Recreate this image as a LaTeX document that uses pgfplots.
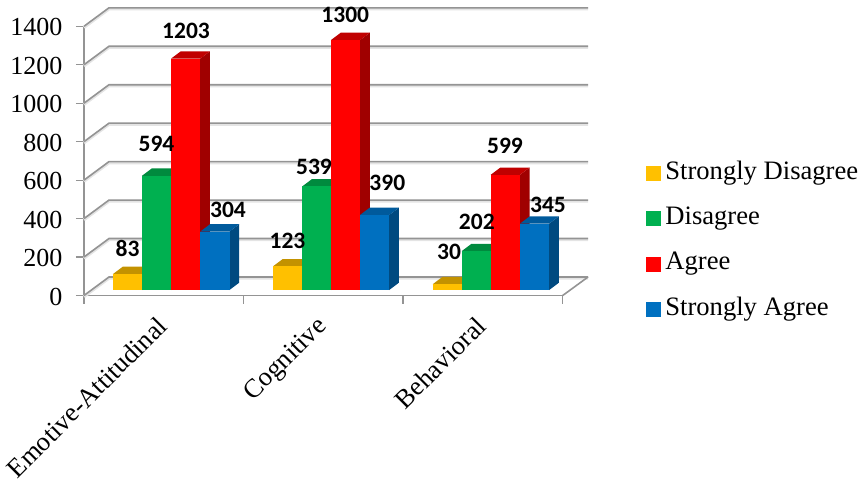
\documentclass[border=0pt]{standalone}
\usepackage{fontspec}
\setmainfont{Liberation Serif}
\newfontfamily\valuefont{Carlito}
\usepackage{pgfplots}
\pgfplotsset{compat=1.18}

\definecolor{wallgray}{HTML}{949494}
\definecolor{wallshade}{HTML}{E4E4E4}
\definecolor{sdF}{HTML}{FFC000}\definecolor{sdT}{HTML}{C39200}\definecolor{sdS}{HTML}{A67C00}
\definecolor{dF}{HTML}{00B050}\definecolor{dT}{HTML}{008A3E}\definecolor{dS}{HTML}{006C30}
\definecolor{aF}{HTML}{FF0000}\definecolor{aT}{HTML}{C00000}\definecolor{aS}{HTML}{A00000}
\definecolor{saF}{HTML}{0070C0}\definecolor{saT}{HTML}{005A9C}\definecolor{saS}{HTML}{004A80}

% value units per pixel-sized lift of the bar floor and of the bar depth
\def\floorlift{28.6}
\def\barw{29.2}
\def\depthx{9.7}
\def\depthy{38}

% one 3-D bar: left edge, value, colour prefix
\newcommand{\barthree}[3]{%
  \pgfmathsetmacro\xa{#1}%
  \pgfmathsetmacro\xb{#1+\barw}%
  \pgfmathsetmacro\xc{#1+\depthx}%
  \pgfmathsetmacro\xd{#1+\barw+\depthx}%
  \pgfmathsetmacro\ya{\floorlift}%
  \pgfmathsetmacro\yb{\floorlift+#2}%
  \pgfmathsetmacro\yc{\floorlift+\depthy}%
  \pgfmathsetmacro\yd{\floorlift+#2+\depthy}%
  \addplot[forget plot,draw=none,fill=#3S] coordinates {(\xb,\ya) (\xd,\yc) (\xd,\yd) (\xb,\yb)} --cycle;
  \addplot[forget plot,draw=none,fill=#3T] coordinates {(\xa,\yb) (\xc,\yd) (\xd,\yd) (\xb,\yb)} --cycle;
  \addplot[forget plot,draw=none,fill=#3F] coordinates {(\xa,\ya) (\xa,\yb) (\xb,\yb) (\xb,\ya)} --cycle;
}

% one grid level: rises along the side wall, runs across the back wall
\newcommand{\gridlevel}[1]{%
  \pgfmathsetmacro\yb{#1+96.2}%
  \addplot[forget plot,draw=wallshade,line width=3pt] coordinates {(84,#1-6) (109,\yb-6) (588,\yb-6)};
  \addplot[forget plot,draw=wallgray,line width=1.6pt] coordinates {(84,#1) (109,\yb) (588,\yb)};
}

% value label centred on an x position and a height in value units
\newcommand{\vallabel}[3]{%
  \node[font=\valuefont\bfseries\fontsize{23.5}{26}\selectfont,inner sep=0pt] at (axis cs:#1,#2) {#3};
}

\begin{document}
\begin{tikzpicture}
\path[use as bounding box] (0,0) rectangle (863pt,483pt);
\begin{axis}[
  at={(84pt,187.5pt)}, anchor=south west,
  width=478.7pt, height=269.2pt, scale only axis,
  xmin=84, xmax=562.7, ymin=0, ymax=1400,
  clip=false,
  axis x line*=bottom, axis y line*=left,
  axis line style={draw=wallgray,line width=1.6pt,-},
  tick align=outside, major tick length=8pt,
  tick style={draw=wallgray,line width=1.2pt},
  xtick={84,243.5,403,562.7}, xticklabels={},
  ytick={0,200,...,1400},
  scaled y ticks=false,
  /pgf/number format/assume math mode=true,
  /pgf/number format/1000 sep={},
  yticklabel style={xshift=-10pt,yshift=-1pt,font=\fontsize{26}{30}\selectfont},
  extra x ticks={163.7,323,482.7},
  extra x tick labels={Emotive-Attitudinal,Cognitive,Behavioral},
  extra x tick style={
    major tick length=0pt,
    tick style={draw=none},
    xticklabel style={rotate=45,anchor=north east,inner sep=0pt,yshift=-8pt,xshift=-19.4pt,font=\fontsize{26.5}{30}\selectfont}},
  legend style={at={(axis cs:643,282)},anchor=west,draw=none,fill=none,
    font=\fontsize{26.6}{30}\selectfont,
    nodes={inner sep=0pt,text height=18pt,text depth=6pt},
    row sep=21.2pt},
  legend cell align=left,
  legend image code/.code={\fill[#1] (-2pt,-7pt) rectangle (12pt,7pt); \path[draw=none,fill=none] (0pt,0pt) -- (17pt,0pt);},
]
% walls and floor
\gridlevel{0}\gridlevel{200}\gridlevel{400}\gridlevel{600}
\gridlevel{800}\gridlevel{1000}\gridlevel{1200}\gridlevel{1400}
\addplot[forget plot,draw=wallgray,line width=1.6pt] coordinates {(562.7,0) (588,96.2)};

% Emotive-Attitudinal
\barthree{113}{83}{sd}
\barthree{142}{594}{d}
\barthree{171}{1203}{a}
\barthree{200.3}{304}{sa}
% Cognitive
\barthree{273}{123}{sd}
\barthree{302.3}{539}{d}
\barthree{331}{1300}{a}
\barthree{360}{390}{sa}
% Behavioral
\barthree{432.7}{30}{sd}
\barthree{461.7}{202}{d}
\barthree{490.7}{599}{a}
\barthree{520}{345}{sa}

% value labels
\vallabel{127.5}{242}{83}
\vallabel{156.5}{788}{594}
\vallabel{186}{1375}{1203}
\vallabel{228}{445}{304}
\vallabel{287.5}{283}{123}
\vallabel{314}{668}{539}
\vallabel{345.3}{1459}{1300}
\vallabel{387.3}{587}{390}
\vallabel{449}{228}{30}
\vallabel{476.8}{382}{202}
\vallabel{505}{780}{599}
\vallabel{548}{471}{345}

\addlegendimage{sdF}\addlegendentry{Strongly Disagree}
\addlegendimage{dF}\addlegendentry{Disagree}
\addlegendimage{aF}\addlegendentry{Agree}
\addlegendimage{saF}\addlegendentry{Strongly Agree}
\end{axis}
\end{tikzpicture}
\end{document}
